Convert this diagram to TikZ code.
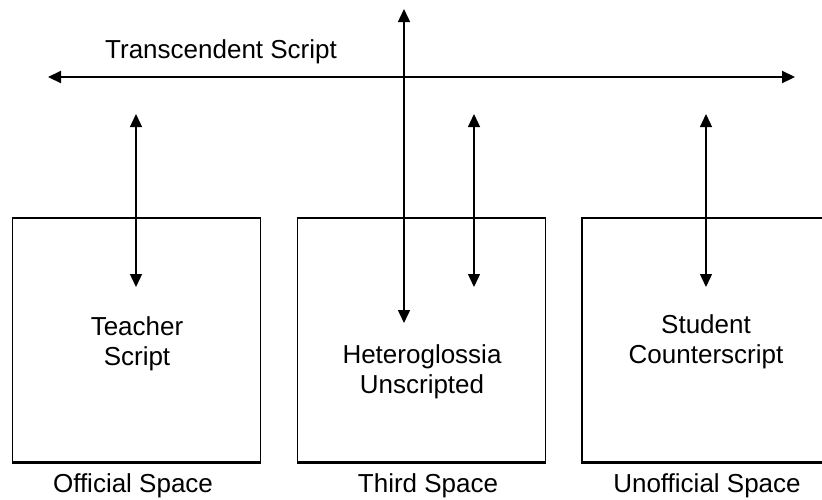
\documentclass[tikz,border=0pt]{standalone}
\usepackage{fontspec}
\setmainfont{Liberation Sans}
\usetikzlibrary{arrows.meta}

\begin{document}
\begin{tikzpicture}[
      x=1pt, y=-1pt,
      box/.style={draw, line width=1.2pt, minimum width=248pt, minimum height=244pt, inner sep=0pt},
      lbl/.style={font=\fontsize{26}{30}\selectfont, align=center, inner sep=0pt},
      arrow/.style={{Triangle[length=13pt,width=12pt]}-{Triangle[length=13pt,width=12pt]}, line width=1.3pt}
    ]
      \useasboundingbox (0,0) rectangle (822,499);
      \clip (0,0) rectangle (822,499);

      \node[box] (official)   at (136.5,340) {};
      \node[box] (third)      at (421.5,340) {};
      \node[box] (unofficial) at (706,340)   {};
      \foreach \b in {official,third,unofficial}
        \draw[line width=2.4pt] (\b.south west) -- (\b.south east);

      \node[lbl, anchor=base west] (transcendent) at (105,58) {Transcendent Script};
      \node[lbl, anchor=north] (teacher) at (137,316) {Teacher\\Script};
      \node[lbl, anchor=north] (hetero)  at (422,344) {Heteroglossia\\Unscripted};
      \node[lbl, anchor=north] (student) at (706,314) {Student\\Counterscript};

      \node[lbl, anchor=base] (officialname)   at (133,492) {Official Space};
      \node[lbl, anchor=base] (thirdname)      at (428,492) {Third Space};
      \node[lbl, anchor=base] (unofficialname) at (707,492) {Unofficial Space};

      \coordinate (tsW) at (48,77);
      \coordinate (tsE) at (795,77);
      \coordinate (heteroTop) at (404,9);
      \coordinate (heteroEnd) at (404,323);
      \coordinate (teacherTop) at (136,114);
      \coordinate (teacherEnd) at (136,287);
      \coordinate (thirdTop) at (474,114);
      \coordinate (thirdEnd) at (474,287);
      \coordinate (studentTop) at (706,114);
      \coordinate (studentEnd) at (706,287);

      \draw[arrow, line width=2.2pt] (tsW) -- (tsE);
      \draw[arrow, line width=1.5pt] (heteroTop) -- (heteroEnd);
      \draw[arrow] (teacherTop) -- (teacherEnd);
      \draw[arrow] (thirdTop) -- (thirdEnd);
      \draw[arrow] (studentTop) -- (studentEnd);
    \end{tikzpicture}
\end{document}
